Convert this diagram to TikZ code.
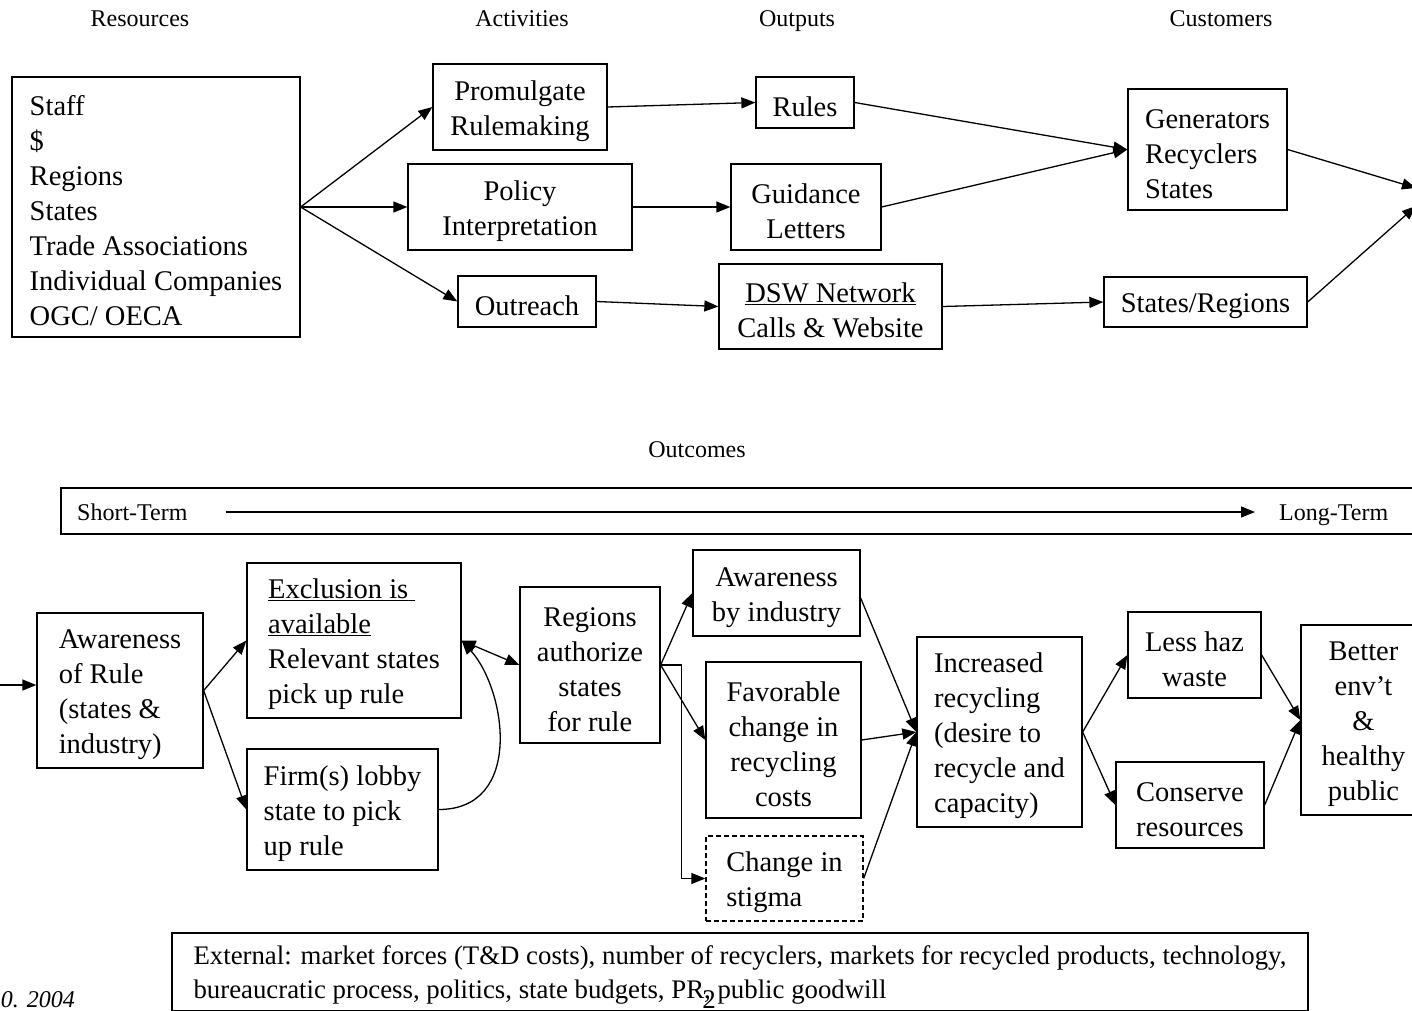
\documentclass[tikz,border=0pt]{standalone}
\usepackage{fontspec}
\setmainfont{Liberation Serif}
\usepackage{tikz}
\usetikzlibrary{arrows.meta, positioning, calc}
\definecolor{mydark}{RGB}{0,0,0}
\newcommand{\boxfont}{\fontsize{28.5}{35}\selectfont}
\newcommand{\labfont}{\fontsize{24}{34}\selectfont}
\newcommand{\extfont}{\fontsize{26.8}{34}\selectfont}
\newcommand{\tstrut}{\rule{0pt}{27.5pt}}
\tikzset{
  box/.style={rectangle, draw=mydark, line width=1.3pt, inner sep=0pt,
    align=center, font=\boxfont},
  lbox/.style={box, align=left},
  dashbox/.style={lbox, dash pattern=on 5pt off 3pt},
  head/.style={font=\labfont, inner sep=0pt, text height=19.5pt, text depth=3.5pt},
  arrow/.style={-{Triangle[length=14pt,width=11pt]}, line width=1.3pt, color=mydark},
  dblarrow/.style={{Triangle[length=14pt,width=11pt]}-{Triangle[length=14pt,width=11pt]}, line width=1.3pt, color=mydark}
}

\begin{document}
\begin{tikzpicture}[x=1pt, y=-1pt]
  \useasboundingbox (0,0) rectangle (1412,1010);
  \clip (0,0) rectangle (1412,1010);

  % Column headings
  \node[head] (hres) at (140,18) {Resources};
  \node[head] (hact) at (522,18) {Activities};
  \node[head] (hout) at (797,18) {Outputs};
  \node[head] (hcus) at (1221,18) {Customers};

  % Resources
  \node[lbox, minimum width=288, minimum height=260] (res) at (156,207)
    {\tstrut Staff\\\$\\Regions\\States\\Trade Associations\\Individual Companies\\OGC/ OECA};

  % Activities
  \node[box, minimum width=174, minimum height=86] (prom) at (520,107) {\tstrut Promulgate\\Rulemaking};
  \node[box, minimum width=224, minimum height=86] (pol) at (520,207) {\tstrut Policy\\Interpretation};
  \node[box, minimum width=138, minimum height=51] (outr) at (527,301.5) {\tstrut Outreach};

  % Outputs
  \node[box, minimum width=98, minimum height=51] (rules) at (805,102.5) {\tstrut Rules};
  \node[box, minimum width=150, minimum height=86] (guid) at (806,207) {\tstrut Guidance\\Letters};
  \node[box, minimum width=223, minimum height=85] (dsw) at (830.5,306.5) {\tstrut\underline{DSW Network}\\Calls \& Website};

  % Customers
  \node[lbox, minimum width=159, minimum height=121] (gen) at (1207.5,149.5) {\tstrut Generators\\Recyclers\\States};
  \node[box, minimum width=203, minimum height=50] (stre) at (1205.5,302) {\tstrut States/Regions};
  \coordinate (offa) at (1416,188);
  \coordinate (offb) at (1416,206);

  % Top connectors
  \draw[arrow] (res.east) -- (prom.west);
  \draw[arrow] (res.east) -- (pol.west);
  \draw[arrow] (res.east) -- (outr.west);
  \draw[arrow] (prom.east) -- (rules.west);
  \draw[arrow] (pol.east) -- (guid.west);
  \draw[arrow] (outr.east) -- (dsw.west);
  \draw[arrow] (rules.east) -- (gen.west);
  \draw[arrow] (guid.east) -- (gen.west);
  \draw[arrow] (dsw.east) -- (stre.west);
  \draw[arrow] (gen.east) -- (offa);
  \draw[arrow] (stre.east) -- (offb);

  % Outcomes time bar
  \node[head] (hoc) at (697,449) {Outcomes};
  \node[draw=mydark, line width=1.3pt, minimum width=1364, minimum height=46, inner sep=0pt] (bar) at (743,511) {};
  \node[head, anchor=west] (short) at (77,512) {Short-Term};
  \node[head, anchor=west] (long) at (1279,512) {Long-Term};
  \draw[arrow] ([xshift=38pt]short.east) -- ([xshift=-24pt]long.west);

  % Outcomes boxes
  \coordinate (offl) at (-5,685);
  \node[lbox, minimum width=166, minimum height=155] (awr) at (120,690.5)
    {\tstrut Awareness\\of Rule\\(states \&\\industry)};
  \node[lbox, minimum width=214, minimum height=155] (excl) at (354,640.5)
    {\tstrut\underline{Exclusion is\ }\\\underline{available}\\Relevant states\\pick up rule};
  \node[lbox, minimum width=191, minimum height=121] (firm) at (342.5,809.5)
    {\tstrut Firm(s) lobby\\state to pick\\up rule};
  \node[box, minimum width=140, minimum height=156] (reg) at (590,665)
    {\tstrut Regions\\authorize\\states\\for rule};
  \node[box, minimum width=167, minimum height=86] (abi) at (776.5,593) {\tstrut Awareness\\by industry};
  \node[box, minimum width=155, minimum height=156] (fav) at (783.5,740)
    {\tstrut Favorable\\change in\\recycling\\costs};
  \node[dashbox, minimum width=157, minimum height=85] (stig) at (784.5,878.5) {\tstrut Change in\\stigma};
  \node[lbox, minimum width=165, minimum height=190] (incr) at (999.5,732)
    {\tstrut Increased\\recycling\\(desire to\\recycle and\\capacity)};
  \node[box, minimum width=133, minimum height=86] (less) at (1194.5,655) {\tstrut Less haz\\waste};
  \node[box, minimum width=148, minimum height=86] (cons) at (1190,805) {\tstrut Conserve\\resources};
  \node[box, minimum width=125, minimum height=190] (bett) at (1363.5,720)
    {\tstrut Better\\env'\kern-1pt t\\\&\\healthy\\public};

  % Outcomes connectors
  \draw[arrow] (offl) -- (offl -| awr.west);
  \draw[arrow] (awr.east) -- (excl.west);
  \draw[arrow] (awr.east) -- (firm.west);
  \draw[dblarrow] (excl.east) -- (reg.west);
  \draw[arrow] (firm.east) .. controls +(85,0) and +(45,50) .. (excl.east);
  \draw[arrow] (reg.east) -- (abi.west);
  \draw[arrow] (reg.east) -- (fav.west);
  \draw[arrow] (reg.east) -- ++(21,0) |- (stig.west);
  \draw[arrow] ([yshift=-5pt]abi.east) -- (incr.west);
  \draw[arrow] (fav.east) -- (incr.west);
  \draw[arrow] (stig.east) -- (incr.west);
  \draw[arrow] (incr.east) -- (less.west);
  \draw[arrow] (incr.east) -- (cons.west);
  \draw[arrow] (less.east) -- (bett.west);
  \draw[arrow] (cons.east) -- (bett.west);

  % External factors and footer
  \node[lbox, font=\extfont, minimum width=1136, minimum height=78] (ext) at (740,972)
    {\rule{0pt}{24.5pt}External: market forces (T\&D costs), number of recyclers, markets for recycled products, technology,\\
     bureaucratic process, politics, state budgets, PR, public goodwill};
  \node[inner sep=0pt, font=\fontsize{27}{30}\selectfont] (page) at (709,1000) {2};
  \node[inner sep=0pt, anchor=east, font=\labfont\itshape] (date) at (75,1000) {0. 2004};
\end{tikzpicture}
\end{document}
